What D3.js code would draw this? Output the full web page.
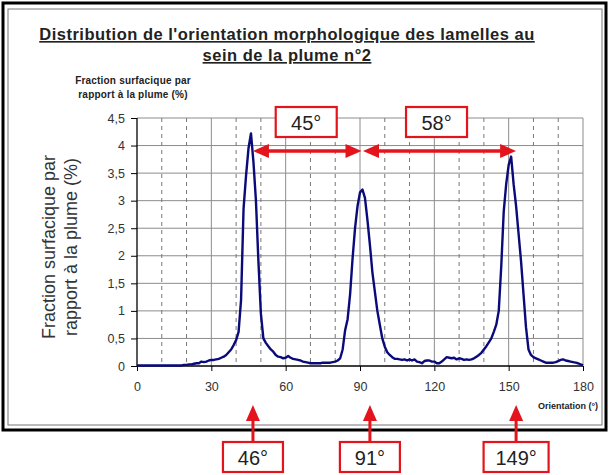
<!DOCTYPE html>
<html><head><meta charset="utf-8">
<script src="https://cdn.jsdelivr.net/npm/d3@7"></script>
<style>body{margin:0;background:#fff}svg{display:block}</style>
</head><body>
<svg id="c" width="609" height="475"></svg>
<script>
const angles = d3.range(0, 181);
const fraction = [
0.01,0.01,0.01,0.01,0.01,0.01,0.01,0.01,0.01,0.01,
0.01,0.01,0.01,0.01,0.01,0.01,0.01,0.01,0.01,0.02,
0.02,0.03,0.03,0.04,0.05,0.05,0.08,0.07,0.08,0.10,
0.11,0.11,0.12,0.13,0.15,0.17,0.20,0.25,0.30,0.38,
0.47,0.62,1.20,2.85,3.45,3.95,4.22,3.70,3.00,1.90,
0.95,0.50,0.42,0.36,0.30,0.26,0.20,0.17,0.16,0.14,
0.15,0.18,0.15,0.13,0.12,0.11,0.10,0.08,0.07,0.06,
0.05,0.05,0.05,0.05,0.05,0.06,0.06,0.06,0.06,0.07,
0.08,0.10,0.14,0.30,0.65,0.85,1.30,1.95,2.50,2.90,
3.15,3.20,3.05,2.65,2.20,1.70,1.35,1.00,0.75,0.50,
0.35,0.25,0.20,0.16,0.13,0.13,0.12,0.11,0.12,0.10,
0.12,0.10,0.12,0.08,0.07,0.05,0.09,0.10,0.10,0.08,
0.08,0.05,0.05,0.08,0.12,0.16,0.15,0.14,0.15,0.12,
0.14,0.13,0.11,0.12,0.11,0.12,0.14,0.17,0.20,0.24,
0.30,0.36,0.43,0.50,0.62,0.75,1.00,1.80,2.80,3.30,
3.65,3.80,3.30,2.90,2.40,1.90,1.30,0.70,0.30,0.20,
0.16,0.14,0.12,0.10,0.08,0.06,0.06,0.06,0.06,0.07,
0.09,0.11,0.12,0.10,0.09,0.08,0.07,0.06,0.05,0.03,
0.01];
const xTicks = [0, 30, 60, 90, 120, 150, 180];
const xMinor = [10, 20, 40, 50, 70, 80, 100, 110, 130, 140, 160, 170];
const yTicks = [0, 0.5, 1, 1.5, 2, 2.5, 3, 3.5, 4, 4.5];
const yTickLabels = ["0","0,5","1","1,5","2","2,5","3","3,5","4","4,5"];
const titleLines = ["Distribution de l'orientation morphologique des lamelles au", "sein de la plume n°2"];
const yTitleLines = ["Fraction surfacique par", "rapport à la plume (%)"];
const smallTitleLines = ["Fraction surfacique par", "rapport à la plume (%)"];
const xTitle = "Orientation (°)";
// annotations
const spanLabels = ["45°", "58°"];
const spans = [[46.8, 90.6], [91.2, 153]];
const peakLabels = ["46°", "91°", "149°"];
const peakArrowAt = [46.8, 94.0, 153];

const svg = d3.select("#c");
const L = 137, R = 583, T = 118, B = 366;
const x = d3.scaleLinear().domain([0, 180]).range([L, R]);
const y = d3.scaleLinear().domain([0, 4.5]).range([B, T]);
const font = "Arial, 'Liberation Sans', sans-serif";
const red = "#e3141b";

// frame
svg.append("rect").attr("x", 3).attr("y", 3).attr("width", 603).attr("height", 427)
  .attr("fill", "none").attr("stroke", "#000").attr("stroke-width", 3);
svg.append("rect").attr("x", 8).attr("y", 9).attr("width", 594).attr("height", 416)
  .attr("fill", "none").attr("stroke", "#777").attr("stroke-width", 1);

// titles
svg.selectAll(".tl").data(titleLines).enter().append("text")
  .attr("x", 287).attr("y", (d, i) => 40 + i * 21)
  .attr("text-anchor", "middle").attr("font-family", font).attr("font-size", 16.5)
  .attr("letter-spacing", 0.5)
  .attr("font-weight", "bold").attr("fill", "#222").attr("text-decoration", "underline")
  .text(d => d);

svg.selectAll(".st").data(smallTitleLines).enter().append("text")
  .attr("x", 133).attr("y", (d, i) => 84 + i * 14)
  .attr("text-anchor", "middle").attr("font-family", font).attr("font-size", 10)
  .attr("letter-spacing", 0.2)
  .attr("font-weight", "bold").attr("fill", "#222")
  .text(d => d);

// gridlines
const g = svg.append("g");
g.selectAll(".hg").data(yTicks.slice(1)).enter().append("line")
  .attr("x1", L).attr("x2", R).attr("y1", d => y(d)).attr("y2", d => y(d))
  .attr("stroke", "#8c8c8c").attr("stroke-width", 1);
g.selectAll(".vmin").data(xMinor).enter().append("line")
  .attr("x1", d => x(d)).attr("x2", d => x(d)).attr("y1", T).attr("y2", B)
  .attr("stroke", "#777").attr("stroke-width", 1).attr("stroke-dasharray", "4,4");
g.selectAll(".vmaj").data(xTicks.slice(1)).enter().append("line")
  .attr("x1", d => x(d)).attr("x2", d => x(d)).attr("y1", T).attr("y2", B)
  .attr("stroke", "#8c8c8c").attr("stroke-width", 1);

// axes
const xAxis = d3.axisBottom(x).tickValues(xTicks).tickSize(5).tickPadding(11).tickFormat(d => d);
const yAxis = d3.axisLeft(y).tickValues(yTicks).tickSize(6).tickPadding(6)
  .tickFormat((d, i) => yTickLabels[i]);
const ax = svg.append("g").attr("transform", `translate(0,${B})`).call(xAxis);
const ay = svg.append("g").attr("transform", `translate(${L},0)`).call(yAxis);
[ax, ay].forEach(a => {
  a.select(".domain").attr("stroke", "#000").attr("stroke-width", 1.3);
  a.selectAll(".tick line").attr("stroke", "#000");
  a.selectAll("text").attr("font-family", font).attr("font-size", 12.5).attr("fill", "#333");
});
ax.select(".domain").attr("d", `M${L},0H${R}`);
ay.select(".domain").attr("d", `M0,${B}V${T}`);

// axis titles
svg.append("text").attr("x", 598).attr("y", 409).attr("text-anchor", "end")
  .attr("font-family", font).attr("font-size", 9).attr("font-weight", "bold").attr("fill", "#222")
  .text(xTitle);
svg.selectAll(".yt").data(yTitleLines).enter().append("text")
  .attr("transform", (d, i) => `translate(${55 + i * 22},247) rotate(-90)`)
  .attr("text-anchor", "middle").attr("font-family", font).attr("font-size", 18).attr("fill", "#333")
  .text(d => d);

// curve
const line = d3.line().x((d, i) => x(angles[i])).y(d => y(d));
svg.append("path").datum(fraction).attr("d", line).attr("fill", "none")
  .attr("stroke", "#0a0a7a").attr("stroke-width", 2.4).attr("stroke-linejoin", "round");

// top span arrows
const ay0 = 151;
const ann = svg.append("g");
spans.forEach((s, i) => {
  const x0 = x(s[0]), x1 = x(s[1]);
  ann.append("line").attr("x1", x0 + 10).attr("x2", x1 - 10).attr("y1", ay0).attr("y2", ay0)
    .attr("stroke", red).attr("stroke-width", 3.5);
  ann.append("path").attr("d", `M${x0},${ay0}L${x0 + 16},${ay0 - 7}L${x0 + 16},${ay0 + 7}Z`).attr("fill", red);
  ann.append("path").attr("d", `M${x1},${ay0}L${x1 - 16},${ay0 - 7}L${x1 - 16},${ay0 + 7}Z`).attr("fill", red);
  const cx = (x0 + x1) / 2 + (i === 0 ? -1 : -3);
  const w = 61;
  ann.append("rect").attr("x", cx - w / 2).attr("y", 107).attr("width", w).attr("height", 30)
    .attr("fill", "#fff").attr("stroke", red).attr("stroke-width", 2.2);
  ann.append("text").attr("x", cx).attr("y", 130).attr("text-anchor", "middle")
    .attr("font-family", font).attr("font-size", 20).attr("fill", "#222").text(spanLabels[i]);
});

// bottom peak arrows
peakArrowAt.forEach((p, i) => {
  const px = x(p);
  ann.append("line").attr("x1", px).attr("x2", px).attr("y1", 418).attr("y2", 442)
    .attr("stroke", red).attr("stroke-width", 3);
  ann.append("path").attr("d", `M${px},${405}L${px - 7},${421}L${px + 7},${421}Z`).attr("fill", red);
  const w = i === 2 ? 65 : 60;
  ann.append("rect").attr("x", px - w / 2).attr("y", 442).attr("width", w).attr("height", 30)
    .attr("fill", "#fff").attr("stroke", red).attr("stroke-width", 2.2);
  ann.append("text").attr("x", px).attr("y", 465).attr("text-anchor", "middle")
    .attr("font-family", font).attr("font-size", 20).attr("fill", "#222").text(peakLabels[i]);
});
</script>
</body></html>
